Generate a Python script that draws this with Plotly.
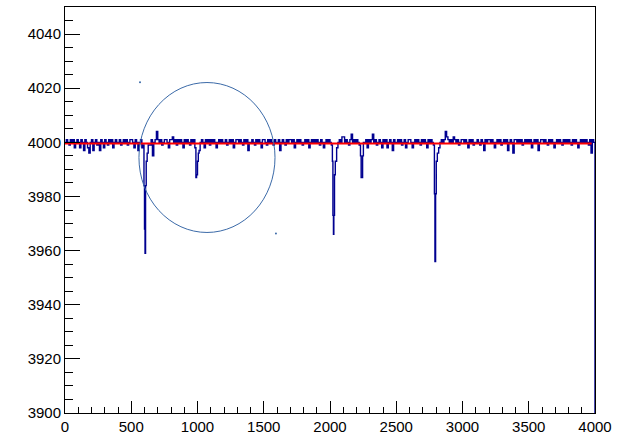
import plotly.graph_objects as go

# ---- data ----
bin_width = 10
baseline_counts = [
    4000, 4001, 4000, 3999, 4001, 4000, 4001, 3998, 4000, 4001,
    4000, 3998, 4001, 4000, 3997, 4001, 4000, 3998, 3996, 4000,
    4001, 3997, 4000, 4001, 3999, 4000, 3997, 4001, 4000, 3998,
    4001, 4000, 3999, 4001, 4000, 4001, 3998, 4000, 4001, 4000,
    4000, 4001, 3999, 4000, 4001, 4000, 4001, 3999, 4000, 4001,
    4001, 4000, 3998, 4001, 4000, 3997, 4000, 4001, 3998, 4000,
    4000, 4000, 4000, 4000, 3999, 4001, 3995, 4000, 4001, 4004,
    4001, 4000, 4001, 3999, 4000, 4001, 4001, 4000, 3998, 4001,
    4001, 4002, 4000, 4001, 3999, 4001, 4000, 4001, 4000, 3998,
    4001, 4000, 4001, 4000, 3999, 4001, 4000, 4001, 4000, 4000,
    4000, 4000, 4000, 4001, 4000, 3998, 4001, 4000, 4001, 3999,
    4001, 4000, 4001, 4000, 3998, 4000, 4001, 4000, 4001, 4000,
    4000, 4001, 3999, 4000, 4001, 4000, 4001, 3998, 4000, 4001,
    4001, 4000, 4001, 4000, 3999, 4001, 4000, 4001, 3997, 4000,
    4000, 4001, 4000, 3999, 4001, 4000, 4001, 4000, 3998, 4001,
    4001, 4000, 3999, 4001, 4000, 4001, 4000, 3999, 4001, 4000,
    4000, 4001, 3997, 4000, 4001, 4000, 3999, 4001, 4000, 4001,
    4001, 4000, 4001, 3998, 4000, 4001, 4000, 4001, 4000, 3999,
    4000, 4001, 4000, 4001, 3998, 4000, 4001, 4000, 4001, 4000,
    4001, 4000, 3999, 4001, 4000, 3998, 4000, 4001, 4000, 4001,
    4000, 4000, 4000, 4000, 4000, 4000, 4000, 4001, 4000, 4002,
    4002, 4000, 4001, 4000, 3999, 4001, 4003, 4000, 4001, 4000,
    4001, 4000, 3999, 4000, 4000, 4000, 4000, 4001, 3998, 4001,
    4000, 4001, 4003, 4000, 4001, 3999, 4000, 4001, 4000, 3998,
    4001, 4000, 4001, 3998, 4000, 4001, 4000, 3997, 4001, 4000,
    4000, 4001, 4000, 4001, 3999, 4000, 4001, 3998, 4000, 4001,
    4001, 4000, 3998, 4000, 4001, 4000, 4001, 4000, 3999, 4001,
    4000, 4001, 4000, 3998, 4001, 4000, 4001, 4000, 4000, 4000,
    4000, 4000, 4000, 4000, 4001, 4000, 4001, 4004, 4002, 4001,
    4000, 4001, 4000, 4002, 4001, 4000, 4001, 3999, 4000, 4001,
    4001, 4000, 4001, 4000, 3998, 4001, 4000, 4001, 3999, 4000,
    4000, 4001, 4000, 3999, 4001, 4000, 3997, 4001, 4000, 4001,
    4001, 4000, 4001, 4000, 3998, 4000, 4001, 4000, 4001, 3999,
    4000, 4001, 4000, 4001, 3997, 4000, 4001, 4000, 3996, 4001,
    4001, 4000, 4001, 4000, 4001, 3999, 4000, 4001, 4000, 4001,
    4000, 4001, 3998, 4000, 4001, 4000, 4001, 3997, 4000, 4001,
    4001, 4000, 4001, 4000, 3999, 4001, 4000, 4001, 4000, 3998,
    4000, 4001, 4000, 4001, 4000, 3999, 4001, 4000, 4001, 4000,
    4001, 4000, 3999, 4001, 4000, 4001, 4000, 3998, 4000, 4001,
    4000, 4001, 4000, 4001, 4000, 3999, 4001, 3996, 4001, 4000,
]

# dips: (start, end) ranges replaced by fine bins (left edges + counts)
dip_ranges = [(590, 640), (980, 1030), (2010, 2060), (2230, 2260), (2780, 2840)]
dip_edges = [
    [590, 596, 600, 604, 608, 613, 620, 628],
    [980, 988, 993, 1000, 1006, 1012, 1020],
    [2010, 2018, 2022, 2026, 2029, 2034, 2040, 2050],
    [2230, 2235, 2240, 2246, 2252],
    [2780, 2788, 2792, 2797, 2802, 2810, 2820, 2830],
]
dip_counts = [
    [3999, 3984, 3968, 3959, 3984, 3993, 3996, 3999],
    [3998, 3987, 3988, 3993, 3996, 3997, 4000],
    [3999, 3993, 3973, 3966, 3973, 3988, 3993, 3998],
    [3995, 3987, 3987, 3995, 4000],
    [3999, 3981, 3956, 3981, 3993, 3996, 3998, 4000],
]

fit_value = 3999.6
fit_range = [0, 3975]

circle_x = [558, 1585]
circle_y = [3966.7, 4022.1]
circle_dots_x = [566, 1592]
circle_dots_y = [4022.2, 3966.3]

x_range = [0, 4000]
y_range = [3900, 4050]

# ---- build step histogram ----
edges = []
vals = []
for i, c in enumerate(baseline_counts):
    lo = i * bin_width
    hi = lo + bin_width
    if any(lo < r[1] and hi > r[0] for r in dip_ranges):
        continue
    edges.append(lo)
    vals.append(c)
for e, c in zip(dip_edges, dip_counts):
    edges.extend(e)
    vals.extend(c)
order = sorted(range(len(edges)), key=lambda k: edges[k])
edges = [edges[k] for k in order]
vals = [vals[k] for k in order]

xs = [0]
ys = [vals[0]]
for e, v in zip(edges, vals):
    xs.append(e)
    ys.append(v)
xs.append(x_range[1])
ys.append(vals[-1])
xs.append(x_range[1])
ys.append(y_range[0] - 10)

fig = go.Figure()
fig.add_trace(go.Scatter(x=xs, y=ys, mode="lines", line=dict(color="#000090", width=1.4, shape="hv"),
                         hoverinfo="skip", showlegend=False))
fig.add_trace(go.Scatter(x=fit_range, y=[fit_value, fit_value], mode="lines",
                         line=dict(color="#ff0000", width=2), showlegend=False))
fig.add_trace(go.Scatter(x=circle_dots_x, y=circle_dots_y, mode="markers",
                         marker=dict(color="#3b6aa8", size=2), showlegend=False))
fig.add_shape(type="circle", xref="x", yref="y", x0=circle_x[0], x1=circle_x[1],
              y0=circle_y[0], y1=circle_y[1], line=dict(color="#3b6aa8", width=1))

fig.update_layout(
    width=628, height=441,
    margin=dict(l=65, r=33, t=6, b=21),
    paper_bgcolor="white", plot_bgcolor="white",
    font=dict(family="Liberation Sans, Arial, sans-serif", size=15, color="black"),
)
fig.update_xaxes(range=x_range, tick0=0, dtick=500, ticks="inside", ticklen=12, tickcolor="black",
                 showline=True, linecolor="black", linewidth=1, mirror=True, showgrid=False, zeroline=False,
                 minor=dict(dtick=100, ticks="inside", ticklen=6, tickcolor="black", showgrid=False))
fig.update_yaxes(range=y_range, tick0=3900, dtick=20, ticks="inside", ticklen=15, tickcolor="black",
                 showline=True, linecolor="black", linewidth=1, mirror=True, showgrid=False, zeroline=False,
                 minor=dict(dtick=5, ticks="inside", ticklen=8, tickcolor="black", showgrid=False))

fig.write_html("out.html")
